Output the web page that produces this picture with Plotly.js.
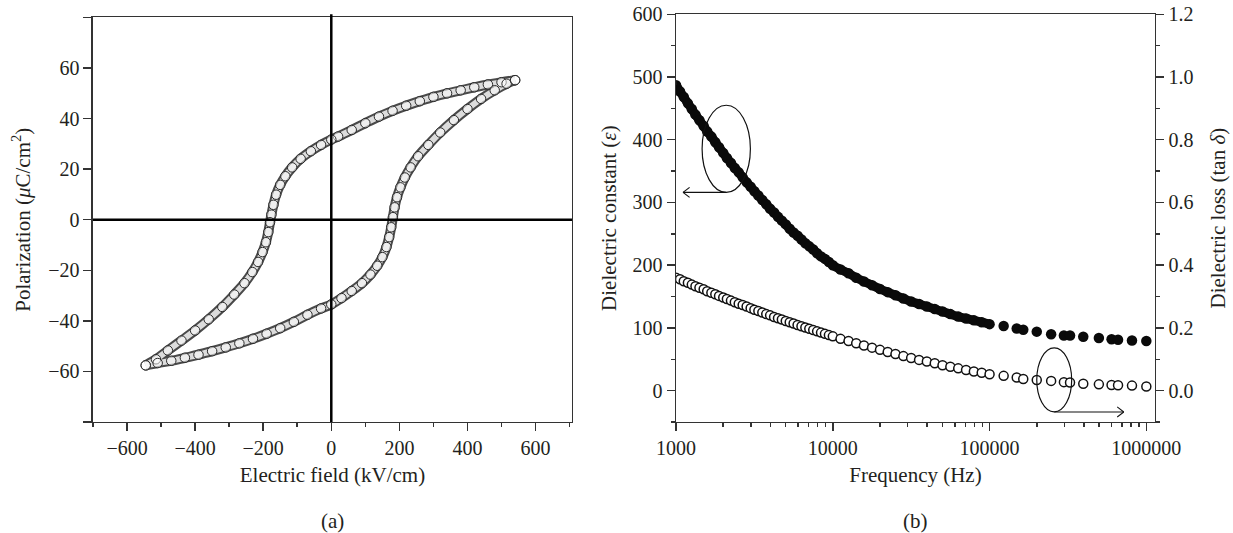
<!DOCTYPE html>
<html><head><meta charset="utf-8">
<script src="https://cdn.plot.ly/plotly-3.0.1.min.js"></script>
<style>html,body{margin:0;padding:0;background:#fff}#chart{width:1233px;height:533px}</style>
</head><body><div id="chart"></div>
<script>
// ---- (a) P-E hysteresis loop: upper (descending) branch ----
const fieldDown = [540,500,460,420,380,340,300,260,220,180,140,100,60,20,0,-30,-60,-90,-115,-135,-150,-162,-170,-176,-180,-185,-192,-202,-215,-232,-255,-285,-320,-360,-400,-440,-480,-515,-545];
const polDown   = [55.2,54.4,53.5,52.4,51.2,50,48.6,46.9,45.1,43.1,40.8,38.2,35.5,32.9,31.7,29.6,27.1,24.1,20.7,17.2,13.8,9.9,5.9,2,-1,-4.9,-8.9,-12.8,-16.7,-20.7,-25.1,-29.6,-34.5,-39.4,-43.8,-47.8,-51.7,-55.2,-57.6];
// ---- lower (ascending) branch ----
const fieldUp = [-545,-510,-470,-430,-390,-350,-310,-270,-230,-190,-150,-110,-70,-30,0,30,60,90,115,135,150,162,170,176,181,186,193,203,216,233,255,285,320,360,400,440,480,515,540];
const polUp   = [-57.6,-56.7,-55.8,-54.6,-53.4,-52,-50.5,-48.9,-47.1,-45.1,-42.9,-40.4,-37.6,-35.1,-33.5,-31,-28.2,-25.1,-21.7,-18.2,-14.8,-10.8,-6.9,-3,1,4.9,8.9,12.8,16.7,20.7,25.1,29.6,34.5,39.4,43.8,47.8,51.2,53.8,55.2];

// ---- (b) frequency dependence: dense sweep 1 kHz - 100 kHz ----
const freqSweep = [1000,1060,1120,1190,1260,1330,1410,1500,1580,1680,1780,1880,2000,2110,2240,2370,2510,2660,2820,2990,3160,3350,3550,3760,3980,4220,4470,4730,5010,5310,5620,5960,6310,6680,7080,7500,7940,8410,8910,9440,10000,
  11200,12600,14100,15800,17800,20000,22400,25100,28200,31600,35500,39800,44700,50100,56200,63100,70800,79400,89100,100000];
const epsSweep = [487,477,468,458,449,440,431,422,413,405,396,388,379,371,363,355,348,340,332,325,318,311,304,297,290,284,277,271,265,258,252,247,241,235,230,225,219,214,210,205,200,
  193,187,180,174,168,162,157,152,147,142,138,134,130,126,122,118,115,112,109,106];
const lossSweep = [0.360,0.355,0.349,0.344,0.338,0.333,0.328,0.323,0.317,0.312,0.307,0.302,0.297,0.292,0.287,0.282,0.277,0.273,0.268,0.263,0.258,0.254,0.249,0.244,0.240,0.235,0.231,0.227,0.222,0.218,0.214,0.209,0.205,0.201,0.197,0.193,0.189,0.185,0.181,0.177,0.173,
  0.165,0.158,0.151,0.144,0.137,0.130,0.123,0.117,0.110,0.104,0.098,0.093,0.087,0.081,0.076,0.071,0.066,0.061,0.057,0.052];
// ---- sparse points above 100 kHz ----
const freqHigh = [123000,149000,164000,200000,247000,298000,326000,396000,498000,600000,660000,810000,1000000];
const epsHigh  = [103,99,97,94,90,88,88,86,84,82,81,80,79];
const lossHigh = [0.047,0.042,0.037,0.034,0.031,0.027,0.026,0.022,0.020,0.018,0.017,0.016,0.013];

// tick labels
const fieldTicks = [-600,-400,-200,0,200,400,600];
const polTicks = [-60,-40,-20,0,20,40,60];
const freqTicks = [1000,10000,100000,1000000];
const freqTickText = ['1000','10000','100000','1000000'];
const lossTicks = [0,0.2,0.4,0.6,0.8,1.0,1.2];
const lossTickText = ['0.0','0.2','0.4','0.6','0.8','1.0','1.2'];

const FONT = 'Liberation Serif, "Times New Roman", serif';
const TXT = '#231f20';
const AXC = '#333333';
const tickFont = {family: FONT, size: 20, color: TXT};
const titleFont = {family: FONT, size: 21, color: TXT};

const tubeOuter = {color: '#4a4a4a', width: 10, shape: 'spline'};
const tubeInner = {color: '#dcdcdc', width: 6, shape: 'spline'};
const loopMarker = {size: 9.5, color: 'rgba(255,255,255,0.5)', line: {color: '#2a2a2a', width: 1}};
const epsMarker = {size: 10.5, color: '#0a0a0a'};
const lossMarker = {size: 9, color: '#ffffff', line: {color: '#111111', width: 1.5}};

const traces = [
  {x: fieldDown, y: polDown, xaxis: 'x', yaxis: 'y', mode: 'lines', line: tubeOuter, hoverinfo: 'skip'},
  {x: fieldUp, y: polUp, xaxis: 'x', yaxis: 'y', mode: 'lines', line: tubeOuter, hoverinfo: 'skip'},
  {x: fieldDown, y: polDown, xaxis: 'x', yaxis: 'y', mode: 'lines', line: tubeInner, hoverinfo: 'skip'},
  {x: fieldUp, y: polUp, xaxis: 'x', yaxis: 'y', mode: 'lines', line: tubeInner, hoverinfo: 'skip'},
  {x: fieldDown, y: polDown, xaxis: 'x', yaxis: 'y', mode: 'markers', marker: loopMarker},
  {x: fieldUp, y: polUp, xaxis: 'x', yaxis: 'y', mode: 'markers', marker: loopMarker},
  {x: freqSweep, y: epsSweep, xaxis: 'x2', yaxis: 'y2', mode: 'lines+markers',
   line: {color: '#0a0a0a', width: 9, shape: 'spline'}, marker: epsMarker},
  {x: freqHigh, y: epsHigh, xaxis: 'x2', yaxis: 'y2', mode: 'markers', marker: epsMarker},
  {x: freqSweep, y: lossSweep, xaxis: 'x2', yaxis: 'y3', mode: 'markers', marker: lossMarker},
  {x: freqHigh, y: lossHigh, xaxis: 'x2', yaxis: 'y3', mode: 'markers', marker: lossMarker}
];

const axBase = {showgrid: false, zeroline: false, showline: true, linecolor: AXC, linewidth: 1.5,
  ticks: 'outside', ticklen: 8, tickwidth: 1.5, tickcolor: AXC, tickfont: tickFont, automargin: false};
const minorStyle = {ticklen: 4, tickwidth: 1.5, tickcolor: AXC, ticks: 'outside'};

const minorFreq = [2000,3000,4000,5000,6000,7000,8000,9000,20000,30000,40000,50000,60000,70000,80000,90000,200000,300000,400000,500000,600000,700000,800000,900000];

const arrowLine = {color: '#111', width: 1.1};

const layout = {
  width: 1233, height: 533,
  margin: {l: 0, r: 0, t: 0, b: 0},
  paper_bgcolor: '#ffffff', plot_bgcolor: '#ffffff',
  showlegend: false,
  font: {family: FONT, color: TXT},
  xaxis: Object.assign({}, axBase, {
    domain: [0.0754, 0.4639], anchor: 'y', range: [-700, 707], mirror: true,
    tickmode: 'array', tickvals: fieldTicks,
    minor: Object.assign({tickmode: 'array', tickvals: [-700,-500,-300,-100,100,300,500,700]}, minorStyle),
    title: {text: 'Electric field (kV/cm)', font: titleFont, standoff: 9}
  }),
  yaxis: Object.assign({}, axBase, {
    domain: [0.2083, 0.9672], anchor: 'x', range: [-80, 80], mirror: true,
    tickmode: 'array', tickvals: polTicks,
    minor: {tickmode: 'array', tickvals: [-80, 80], ticklen: 8, tickwidth: 1.5, tickcolor: AXC, ticks: 'outside'},
    title: {text: 'Polarization (<i>μ</i>C/cm<sup>2</sup>)', font: titleFont, standoff: 12}
  }),
  xaxis2: Object.assign({}, axBase, {
    type: 'log', domain: [0.5483, 0.9367], anchor: 'y2', range: [3, 6.055], mirror: true,
    tickmode: 'array', tickvals: freqTicks, ticktext: freqTickText,
    minor: Object.assign({tickmode: 'array', tickvals: minorFreq}, minorStyle),
    title: {text: 'Frequency (Hz)', font: titleFont, standoff: 9}
  }),
  yaxis2: Object.assign({}, axBase, {
    domain: [0.2083, 0.9732], anchor: 'x2', range: [-50, 600],
    tickmode: 'linear', tick0: 0, dtick: 100,
    minor: Object.assign({tick0: 0, dtick: 50}, minorStyle),
    title: {text: 'Dielectric constant (<i>ε</i>)', font: titleFont, standoff: 10}
  }),
  yaxis3: Object.assign({}, axBase, {
    overlaying: 'y2', side: 'right', anchor: 'x2', range: [-0.1, 1.2],
    tickmode: 'array', tickvals: lossTicks, ticktext: lossTickText,
    minor: Object.assign({tickmode: 'array', tickvals: [-0.1,0.1,0.3,0.5,0.7,0.9,1.1]}, minorStyle),
    title: {text: 'Dielectric loss (tan <i>δ</i>)', font: titleFont, standoff: 18}
  }),
  shapes: [
    // axes crosshair of panel (a)
    {type: 'line', xref: 'x', yref: 'y domain', x0: 0, x1: 0, y0: 0, y1: 1.008, line: {color: '#000', width: 2.5}, layer: 'above'},
    {type: 'line', xref: 'x domain', yref: 'y', x0: 0, x1: 1, y0: 0, y1: 0, line: {color: '#000', width: 2.5}, layer: 'above'},
    // ellipse + arrow pointing to the left axis
    {type: 'circle', xref: 'x2', yref: 'y2', x0: 1466, x1: 2980, y0: 316, y1: 455, line: {color: '#111', width: 1.2}, layer: 'above'},
    {type: 'line', xref: 'x2', yref: 'y2', x0: 2090, x1: 1108, y0: 316, y1: 316, line: arrowLine, layer: 'above'},
    {type: 'line', xref: 'x2', yref: 'y2', x0: 1108, x1: 1220, y0: 316, y1: 324, line: arrowLine, layer: 'above'},
    {type: 'line', xref: 'x2', yref: 'y2', x0: 1108, x1: 1220, y0: 316, y1: 308, line: arrowLine, layer: 'above'},
    // ellipse + arrow pointing to the right axis
    {type: 'circle', xref: 'x2', yref: 'y2', x0: 200000, x1: 334000, y0: -34, y1: 68, line: {color: '#111', width: 1.2}, layer: 'above'},
    {type: 'line', xref: 'x2', yref: 'y2', x0: 259000, x1: 718000, y0: -34, y1: -34, line: arrowLine, layer: 'above'},
    {type: 'line', xref: 'x2', yref: 'y2', x0: 718000, x1: 652000, y0: -34, y1: -26, line: arrowLine, layer: 'above'},
    {type: 'line', xref: 'x2', yref: 'y2', x0: 718000, x1: 652000, y0: -34, y1: -42, line: arrowLine, layer: 'above'}
  ],
  annotations: [
    {xref: 'paper', yref: 'paper', x: 332.5/1233, y: 12/533, text: '(a)', showarrow: false, font: titleFont, xanchor: 'center', yanchor: 'middle'},
    {xref: 'paper', yref: 'paper', x: 915.5/1233, y: 12/533, text: '(b)', showarrow: false, font: titleFont, xanchor: 'center', yanchor: 'middle'}
  ]
};

Plotly.newPlot('chart', traces, layout, {displayModeBar: false, staticPlot: true});
</script>
</body></html>
